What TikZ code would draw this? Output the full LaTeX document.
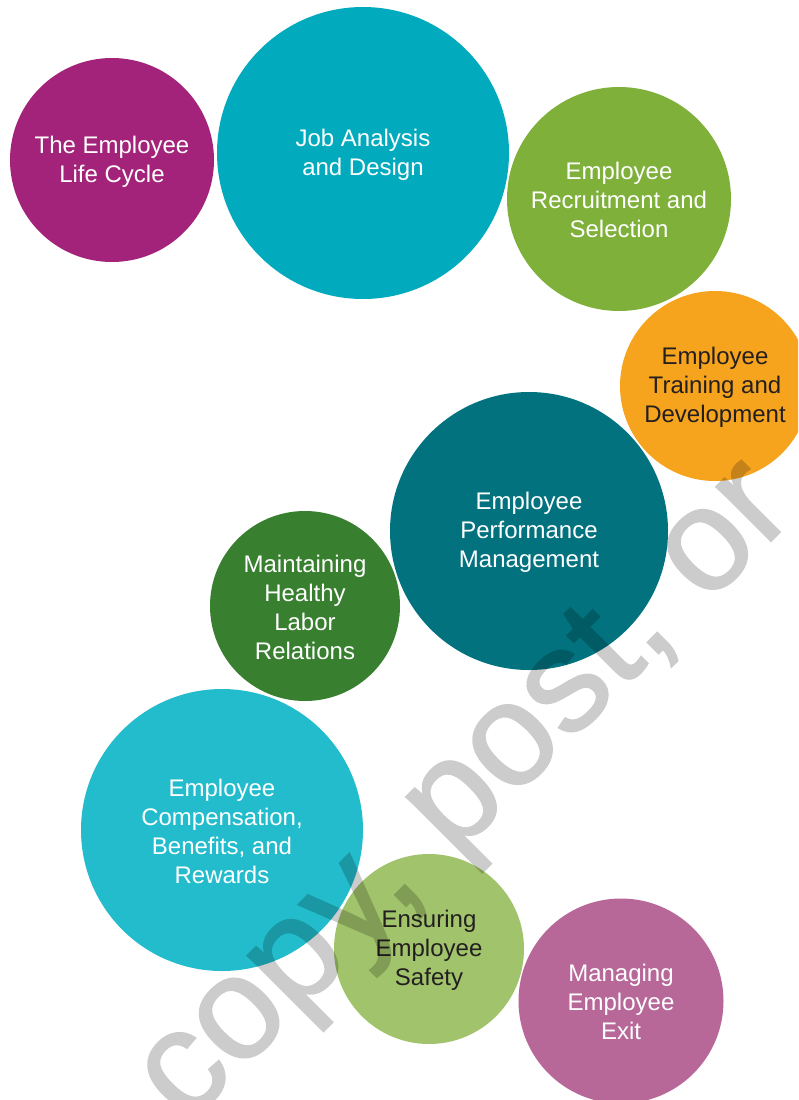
\documentclass[tikz,border=0pt]{standalone}
\usepackage{fontspec}
\setmainfont{Liberation Sans}
\newfontfamily\wmfont[FakeBold=1.2]{Liberation Sans}
\newcommand\tstrut{\rule{0pt}{20pt}}
\definecolor{cMagenta}{HTML}{A3237A}
\definecolor{cTeal}{HTML}{02AABD}
\definecolor{cGreen}{HTML}{7FB03A}
\definecolor{cOrange}{HTML}{F6A31E}
\definecolor{cDarkTeal}{HTML}{02727E}
\definecolor{cDarkGreen}{HTML}{387F2F}
\definecolor{cCyan}{HTML}{22BCCC}
\definecolor{cLightGreen}{HTML}{A0C36B}
\definecolor{cPurple}{HTML}{B76899}
\definecolor{cInk}{HTML}{231F20}
\begin{document}
\begin{tikzpicture}[x=1pt,y=-1pt,
  stage/.style={circle,draw=none,inner sep=0pt,align=center,text=white,
    font=\fontsize{24}{29}\selectfont},
  darktext/.style={text=cInk},
  watermark/.style={text=black,
    font=\wmfont\fontsize{146}{146}\selectfont,inner sep=0pt}]
\useasboundingbox (0,0) rectangle (798,1100);
\clip (0,0) rectangle (798,1100);
\node[stage,fill=cMagenta,minimum size=204pt] (life) at (112,160) {\tstrut The Employee\\Life Cycle};
\node[stage,fill=cTeal,minimum size=292pt] (job) at (363,153) {\tstrut Job Analysis\\and Design};
\node[stage,fill=cGreen,minimum size=224pt] (recruit) at (619,199) {\tstrut Employee\\Recruitment and\\Selection};
\node[stage,darktext,fill=cOrange,minimum size=190pt] (train) at (715,386) {\tstrut Employee\\Training and\\Development};
\node[stage,fill=cDarkTeal,minimum size=278pt] (perf) at (529,531) {\tstrut Employee\\Performance\\Management};
\node[stage,fill=cDarkGreen,minimum size=190pt] (labor) at (305,606) {\tstrut Maintaining\\Healthy\\Labor\\Relations};
\node[stage,fill=cCyan,minimum size=282pt] (comp) at (222,830) {\tstrut Employee\\Compensation,\\Benefits, and\\Rewards};
\node[stage,darktext,fill=cLightGreen,minimum size=190pt] (safety) at (429,949) {\tstrut Ensuring\\Employee\\Safety};
\node[stage,fill=cPurple,minimum size=205pt] (exit) at (621,1001) {\tstrut Managing\\Employee\\Exit};
\begin{scope}[transparency group,opacity=0.2]
\node[watermark,anchor=base west,rotate=45] (wm) at (186,1126) {copy, post, or};
\end{scope}
\end{tikzpicture}
\end{document}
